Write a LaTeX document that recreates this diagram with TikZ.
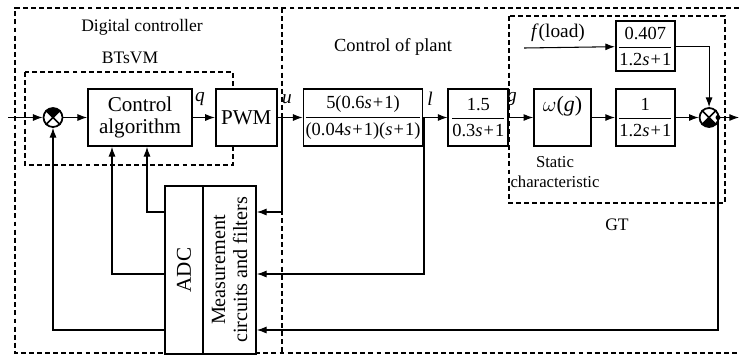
\documentclass[tikz,border=0pt]{standalone}
\usepackage{amsmath}
\usepackage{fontspec}
\setmainfont{Liberation Serif}
\usepackage{tikz}
\usetikzlibrary{arrows.meta, positioning, calc}

\newcommand{\vs}{\textit{s}}
\newcommand{\pl}{\kern0.06em+\kern0.06em}
\newcommand{\tfr}[2]{$\dfrac{\text{#1}}{\text{#2}}$}

\begin{document}
\begin{tikzpicture}[
    x=0.02cm, y=-0.02cm,
    blkbox/.style={draw, line width=1pt, fill=white, rectangle, align=center, inner sep=1pt, minimum height=1.14cm, font=\rmfamily\fontsize{12}{13}\selectfont},
    fracbox/.style={blkbox, inner sep=0pt, font=\rmfamily\fontsize{10.5}{11}\selectfont},
    tallbox/.style={draw, line width=1pt, fill=white, rectangle, inner sep=0pt, minimum height=3.36cm},
    sumnode/.style={draw, line width=1pt, circle, fill=white, minimum size=0.38cm, inner sep=0pt},
    grpline/.style={line width=1pt, dash pattern=on 2.8pt off 1.8pt},
    grplabel/.style={font=\rmfamily\fontsize{10}{12}\selectfont, align=center},
    siglabel/.style={font=\rmfamily\fontsize{11}{12}\selectfont},
    arrow/.style={-{Latex[length=5.5pt,width=4pt]}, semithick}
]
\useasboundingbox (0,0) rectangle (739,356);

% dashed groups
\draw[grpline] (739,8) -- (15,8) -- (15,353) -- (739,353);
\draw[grpline] (282,8) -- (282,353);
\draw[grpline] (25,72) rectangle (233,165);
\draw[grpline] (509,16) rectangle (725,203);

\node[grplabel] (l_dig) at (142,27) {Digital controller};
\node[grplabel] (l_bts) at (130,58) {BTsVM};
\node[grplabel, font=\rmfamily\fontsize{10.5}{12}\selectfont] (l_plant) at (393,47) {Control of plant};
\node[grplabel, font=\rmfamily\fontsize{9.5}{11.5}\selectfont] (l_stat) at (555,172) {Static\\characteristic};
\node[grplabel] (l_gt) at (617,225) {GT};

% main row
\node (sum1) [sumnode] at (53,117.5) {};
\node (ctrl) [blkbox, minimum width=2.08cm] at (140,117.5) {Control\\algorithm};
\node (pwm) [blkbox, minimum width=1.22cm, right=0.44cm of ctrl] {PWM};
\node (plant1) [fracbox, minimum width=2.36cm, right=0.5cm of pwm] {\tfr{5(0.6\vs\pl1)}{(0.04\vs\pl1)(\vs\pl1)}};
\node (plant2) [fracbox, minimum width=1.2cm, right=0.48cm of plant1] {\tfr{1.5}{0.3\vs\pl1}};
\node (stat) [blkbox, minimum width=1.14cm, right=0.48cm of plant2] {};
\node (gt1) [fracbox, minimum width=1.18cm, right=0.46cm of stat] {\tfr{1}{1.2\vs\pl1}};
\node (gt0) [fracbox, minimum width=1.18cm, minimum height=1.0cm, above=0.32cm of gt1] {\tfr{0.407}{1.2\vs\pl1}};
\node (sum2) [sumnode, right=0.46cm of gt1] {};
\node (omg) [anchor=north, font=\rmfamily\fontsize{12.5}{13}\selectfont] at ($(stat.north)+(0,2)$) {$\omega$(\textit{g})};

% sum signs
\foreach \s/\a in {sum1/90, sum2/270} {
  \begin{scope}
    \clip (\s.center) -- ($(\s.center)!3!(\s.\a-45)$) -- ($(\s.center)!3!(\s.\a+45)$) -- cycle;
    \fill (\s.center) circle[radius=0.19cm];
  \end{scope}
  \draw[line width=0.9pt] (\s.45) -- (\s.225) (\s.135) -- (\s.315);
}

% measurement block
\node (adc) [tallbox, minimum width=0.76cm] at (184,270) {};
\node (meas) [tallbox, minimum width=1.06cm] at (229.5,270) {};
\node[rotate=90, font=\rmfamily\fontsize{12}{13}\selectfont] at (adc) {ADC};
\node[rotate=90, align=center, font=\rmfamily\fontsize{11.5}{12.5}\selectfont] at (meas) {Measurement\\circuits and filters};

% signal labels
\node[siglabel] (lq) at (200,99) {\textit{q}};
\node[siglabel] (lu) at (287,99) {\textit{u}};
\node[siglabel] (ll) at (430,99) {\textit{l}};
\node[siglabel] (lg) at (512,99) {\textit{g}};
\node[siglabel] (lf) at (558,33) {\textit{f}(load)};

% connectors
\coordinate (inp) at (8,117.5);
\coordinate (ub) at (282,117.5);
\coordinate (lb) at (424,117.5);
\coordinate (fl) at (524,48);
\coordinate (dot) at (718,117.5);
\coordinate (outp) at (739,117.5);
\coordinate (m1) at (meas.east |- 0,212);
\coordinate (m2) at (meas.east |- 0,274);
\coordinate (m3) at (meas.east |- 0,330);
\coordinate (a1) at (adc.west |- m1);
\coordinate (a2) at (adc.west |- m2);
\coordinate (a3) at (adc.west |- m3);

\draw [arrow] (inp) -- (sum1);
\draw [arrow] (sum1) -- (ctrl);
\draw [arrow] (ctrl) -- (pwm);
\draw [arrow] (pwm) -- (plant1);
\draw [arrow] (plant1) -- (plant2);
\draw [arrow] (plant2) -- (stat);
\draw [arrow] (stat) -- (gt1);
\draw [arrow] (gt1) -- (sum2);
\draw [arrow] (fl) -- (gt0);
\draw [arrow] (gt0.east) -| (sum2.north);
\draw [arrow] (sum2) -- (outp);
\fill (dot) circle[radius=0.05cm];

\draw [arrow] (ub) |- (m1);
\draw [arrow] (lb) |- (m2);
\draw [arrow] (dot) |- (m3);

\draw [arrow] (a1) -| ($(ctrl.south)+(7,0)$);
\draw [arrow] (a2) -| ($(ctrl.south)+(-28,0)$);
\draw [arrow] (a3) -| (sum1.south);

\end{tikzpicture}
\end{document}
